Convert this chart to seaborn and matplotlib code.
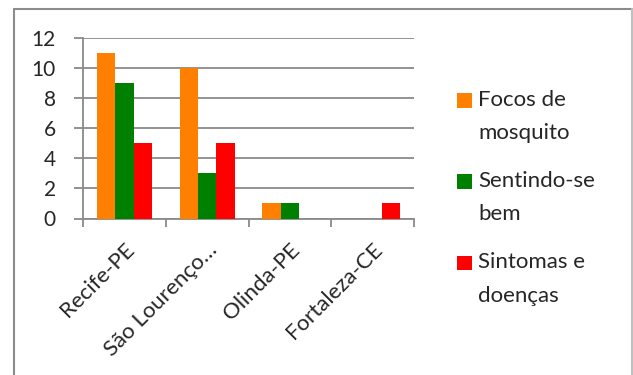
import matplotlib
matplotlib.use("Agg")
import matplotlib.pyplot as plt
from matplotlib.lines import Line2D
from matplotlib.patches import Rectangle
from matplotlib.legend_handler import HandlerPatch
import numpy as np
import pandas as pd
import seaborn as sns

# dados
cidades = ["Recife-PE", "São Lourenço…", "Olinda-PE", "Fortaleza-CE"]
focos = [11, 10, 1, 0]
sentindo = [9, 3, 1, 0]
sintomas = [5, 5, 0, 1]
series = ["Focos de mosquito", "Sentindo-se bem", "Sintomas e doenças"]
legend_labels = ["Focos de\nmosquito", "Sentindo-se\nbem", "Sintomas e\ndoenças"]
cores = ["#FF8000", "#008000", "#FF0000"]

df = pd.DataFrame({
    "cidade": cidades * 3,
    "valor": focos + sentindo + sintomas,
    "serie": [s for s in series for _ in cidades],
})

sns.set_style("white")
plt.rcParams["font.family"] = ["Lato", "DejaVu Sans"]
grid_col = "#8a8a8a"

W, H = 633, 375
fig = plt.figure(figsize=(W / 100, H / 100), dpi=100)
ax = fig.add_axes([83 / W, 1 - 218.5 / H, (414 - 83) / W, (218.5 - 38) / H])

sns.barplot(data=df, x="cidade", y="valor", hue="serie", palette=cores,
            saturation=1, width=0.665, gap=0, ax=ax, legend=True,
            linewidth=0, zorder=3)

ax.set_xlim(-0.5, 3.5)
ax.set_ylim(0, 12)
ax.set_yticks(np.arange(0, 13, 2))
ax.yaxis.grid(True, color=grid_col, linewidth=1.3, zorder=0)
ax.set_axisbelow(True)
ax.set_xlabel("")
ax.set_ylabel("")

for side in ["top", "right"]:
    ax.spines[side].set_visible(False)
for side in ["left", "bottom"]:
    ax.spines[side].set_color(grid_col)
    ax.spines[side].set_linewidth(1.3)

ax.tick_params(axis="y", which="major", direction="out", length=6.5, width=1.3,
               color=grid_col, labelsize=15, pad=13, left=True)
ax.set_xticks(np.arange(-0.5, 4, 1), minor=True)
ax.tick_params(axis="x", which="minor", direction="out", length=6, width=1.3,
               color=grid_col, bottom=True)
ax.tick_params(axis="x", which="major", length=0, labelsize=16, pad=15)
ax.set_xticks(range(len(cidades)))
ax.set_xticklabels(cidades, rotation=45, ha="right", va="top",
                   rotation_mode="anchor")


# quadrado da legenda alinhado com a primeira linha do texto
def quadrado(legend, orig_handle, xdescent, ydescent, width, height, fontsize):
    return Rectangle((-xdescent, -ydescent + 12.0), width, 10.5)


handles, _ = ax.get_legend_handles_labels()
ax.get_legend().remove()
leg = fig.legend(handles, legend_labels, loc="upper left",
                 bbox_to_anchor=(457 / W, 1 - 89.5 / H), frameon=False,
                 fontsize=16, handlelength=0.66, handleheight=0.7,
                 handletextpad=0.3, labelspacing=1.25, borderpad=0,
                 borderaxespad=0,
                 handler_map={matplotlib.patches.Rectangle: HandlerPatch(patch_func=quadrado)})
for t in leg.get_texts():
    t.set_linespacing(1.85)

# moldura do grafico
fig.add_artist(Line2D([14 / W, 14 / W], [0, 1 - 9 / H], color="#8c8c8c", lw=1.5))
fig.add_artist(Line2D([14 / W, 632 / W], [1 - 9 / H, 1 - 9 / H], color="#8c8c8c", lw=1.5))
fig.add_artist(Line2D([632 / W, 632 / W], [0, 1 - 9 / H], color="#c0c0c0", lw=1.5))

fig.savefig("out.png", dpi=100)
